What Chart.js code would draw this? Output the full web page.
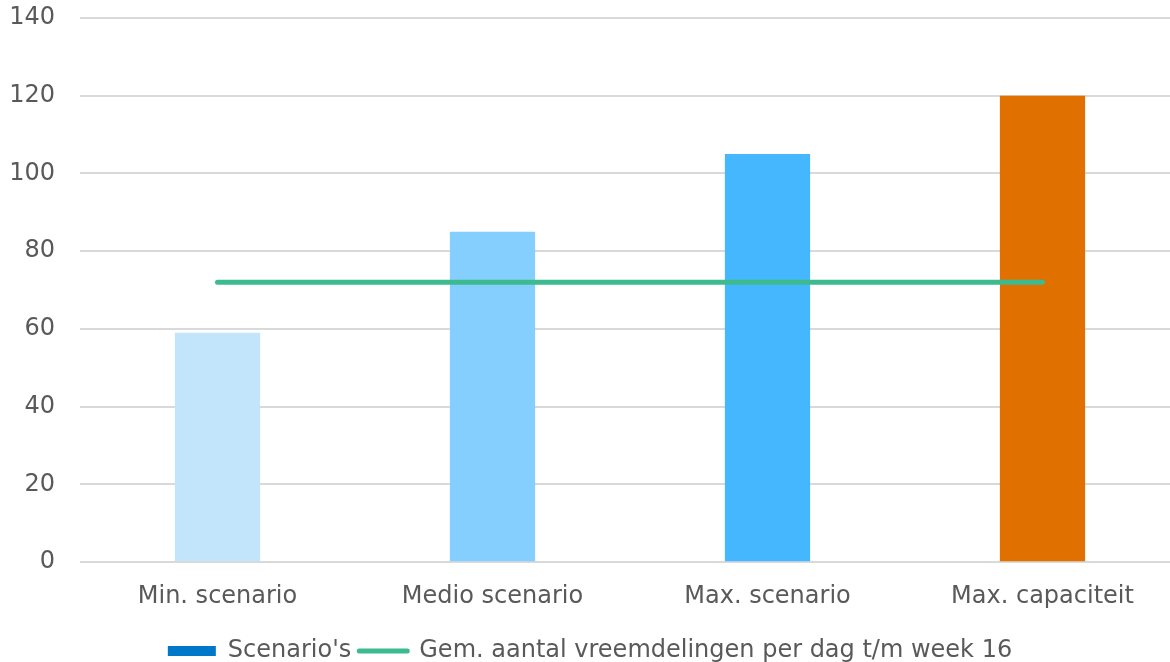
<!DOCTYPE html>
<html>
<head>
<meta charset="utf-8">
<script src="https://cdn.jsdelivr.net/npm/chart.js@4/dist/chart.umd.min.js"></script>
<style>
  html, body { margin: 0; padding: 0; background: #fff; overflow: hidden; }
  #wrap { width: 1170px; height: 662px; overflow: hidden; }
</style>
</head>
<body>
<div id="wrap"><canvas id="chart" width="1180" height="662"></canvas></div>
<script>
const categories = ['Min. scenario', 'Medio scenario', 'Max. scenario', 'Max. capaciteit'];
const scenarioValues = [59, 85, 105, 120];
const averageValues = [72, 72, 72, 72];
const barColors = ['#C2E5FC', '#85CFFF', '#44B7FF', '#E07000'];
const yTicks = [0, 20, 40, 60, 80, 100, 120, 140];

document.addEventListener('DOMContentLoaded', function() {
    Chart.defaults.font.family = 'Verdana, "DejaVu Sans", sans-serif';
    Chart.defaults.font.size = 24;
    Chart.defaults.color = '#595959';

    const ctx = document.getElementById('chart').getContext('2d');
    new Chart(ctx, {
        type: 'bar',
        data: {
            labels: categories,
            datasets: [{
                type: 'line',
                label: 'Gem. aantal vreemdelingen per dag t/m week 16',
                data: averageValues,
                borderColor: '#3DBB8F',
                backgroundColor: '#3DBB8F',
                borderWidth: 5,
                borderCapStyle: 'round',
                pointRadius: 0,
                order: 0
            }, {
                label: "Scenario's",
                data: scenarioValues,
                backgroundColor: barColors,
                barPercentage: 1,
                categoryPercentage: 0.31,
                order: 1
            }]
        },
        options: {
            responsive: false,
            animation: false,
            layout: {
                autoPadding: false,
                padding: { top: 0, left: 0, right: 0, bottom: -11 }
            },
            plugins: {
                tooltip: { enabled: false },
                legend: {
                    position: 'bottom',
                    labels: {
                        usePointStyle: true,
                        pointStyleWidth: 48,
                        boxWidth: 48,
                        boxHeight: 10,
                        padding: 8,
                        color: '#595959',
                        generateLabels: function(chart) {
                            return [{
                                text: "Scenario's",
                                fillStyle: '#0077C8',
                                strokeStyle: '#0077C8',
                                fontColor: '#595959',
                                lineWidth: 0,
                                pointStyle: 'rect',
                                datasetIndex: 1
                            }, {
                                text: 'Gem. aantal vreemdelingen per dag t/m week 16',
                                fillStyle: '#3DBB8F',
                                strokeStyle: '#3DBB8F',
                                fontColor: '#595959',
                                lineWidth: 5,
                                lineCap: 'round',
                                pointStyle: 'line',
                                datasetIndex: 0
                            }];
                        }
                    }
                }
            },
            scales: {
                x: {
                    grid: { display: false, drawTicks: false },
                    border: { display: false },
                    ticks: { padding: 20 }
                },
                y: {
                    min: 0,
                    max: 140,
                    afterBuildTicks: function(axis) {
                        axis.ticks = yTicks.map(v => ({ value: v }));
                    },
                    afterFit: function(axis) {
                        axis.width = 80;
                        axis.paddingTop = 18;
                        axis.paddingBottom = 0;
                    },
                    grid: { color: '#D9D9D9', lineWidth: 2, drawTicks: false },
                    border: { display: false },
                    ticks: { padding: 25 }
                }
            }
        }
    });
});
</script>
</body>
</html>
